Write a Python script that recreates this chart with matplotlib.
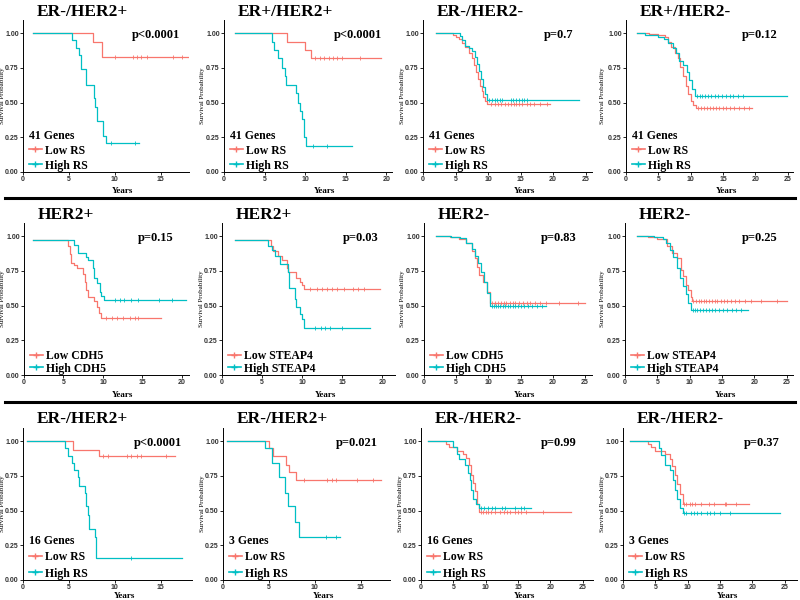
import numpy as np
import matplotlib
matplotlib.use("Agg")
import matplotlib.pyplot as plt
from matplotlib.lines import Line2D

RED = "#F8766D"
CYAN = "#00BFC4"
SERIF = "Liberation Serif"
SANS = "Liberation Sans"

# ---- row 1: 41 genes -------------------------------------------------
# ER-/HER2+
a1_low_t = [1.1, 7.6, 8.65]
a1_low_s = [1.00, 0.94, 0.83]
a1_low_end = 18.1
a1_low_cens = [10.0, 12.0, 12.4, 12.9, 13.5, 16.4, 17.3]
a1_high_t = [1.1, 5.3, 5.8, 6.1, 6.3, 6.9, 7.7, 7.9, 8.1, 8.7, 9.1]
a1_high_s = [1.00, 0.95, 0.89, 0.84, 0.74, 0.63, 0.53, 0.47, 0.37, 0.26, 0.21]
a1_high_end = 12.7
a1_high_cens = [9.6, 12.2]

# ER+/HER2+
a2_low_t = [1.4, 7.8, 10.0, 10.7]
a2_low_s = [1.00, 0.94, 0.88, 0.82]
a2_low_end = 19.3
a2_low_cens = [11.2, 11.85, 12.3, 12.9, 13.4, 13.9, 14.5, 16.8]
a2_high_t = [1.4, 5.9, 6.1, 6.7, 7.1, 7.5, 7.7, 8.9, 9.1, 9.4, 9.6, 9.8, 9.9, 10.1]
a2_high_s = [1.00, 0.94, 0.88, 0.82, 0.75, 0.69, 0.63, 0.57, 0.50, 0.44, 0.38, 0.31, 0.25, 0.19]
a2_high_end = 15.8
a2_high_cens = [11.0, 12.7]

# ER-/HER2-
a3_low_t = [2.0, 4.6, 5.0, 5.5, 6.0, 6.5, 7.0, 7.5, 7.8, 8.1, 8.4, 8.7, 9.0, 9.3, 9.6, 9.9]
a3_low_s = [1.00, 0.99, 0.97, 0.96, 0.93, 0.90, 0.86, 0.82, 0.77, 0.72, 0.67, 0.62, 0.58, 0.54, 0.51, 0.49]
a3_low_end = 19.5
a3_low_cens = [10.5, 11.0, 11.5, 12.0, 12.6, 13.0, 13.5, 14.0, 14.3, 14.8, 15.3, 16.0, 16.5, 17.0, 18.0, 19.0]
a3_high_t = [2.0, 5.7, 6.0, 6.5, 7.0, 7.5, 8.0, 8.3, 8.6, 8.9, 9.2, 9.5, 9.8]
a3_high_s = [1.00, 0.98, 0.95, 0.91, 0.89, 0.87, 0.83, 0.78, 0.73, 0.67, 0.61, 0.56, 0.52]
a3_high_end = 24.0
a3_high_cens = [10.2, 10.6, 11.0, 11.4, 11.8, 12.2, 13.5, 13.8, 14.3, 14.7, 15.2, 15.6, 16.0]

# ER+/HER2-
a4_low_t = [1.65, 3.5, 5.0, 6.0, 6.5, 7.0, 7.5, 8.0, 8.4, 8.8, 9.2, 9.6, 10.0, 10.4, 10.8]
a4_low_s = [1.00, 0.995, 0.99, 0.97, 0.94, 0.90, 0.86, 0.82, 0.76, 0.69, 0.62, 0.56, 0.51, 0.48, 0.46]
a4_low_end = 19.5
a4_low_cens = [11.2, 11.6, 12.0, 12.5, 13.0, 13.4, 13.9, 14.4, 15.0, 15.5, 16.1, 16.7, 17.4, 18.2, 19.0]
a4_high_t = [1.65, 3.0, 4.0, 5.0, 5.8, 6.5, 7.2, 7.8, 8.2, 8.8, 9.4, 9.8, 10.2, 10.6]
a4_high_s = [1.00, 0.99, 0.985, 0.975, 0.96, 0.93, 0.89, 0.86, 0.80, 0.77, 0.72, 0.66, 0.60, 0.55]
a4_high_end = 24.9
a4_high_cens = [11.0, 11.4, 11.8, 12.2, 12.7, 13.2, 13.7, 14.2, 14.8, 15.4, 16.0, 16.6, 17.3, 18.0]

# ---- row 2: single genes --------------------------------------------
# HER2+ CDH5
b1_low_t = [1.2, 5.6, 5.8, 6.0, 6.3, 6.7, 7.5, 7.7, 7.9, 8.1, 8.9, 9.2, 9.5, 9.7]
b1_low_s = [0.97, 0.93, 0.87, 0.81, 0.79, 0.77, 0.73, 0.67, 0.61, 0.56, 0.53, 0.49, 0.45, 0.41]
b1_low_end = 17.4
b1_low_cens = [10.4, 11.2, 11.8, 12.6, 13.4, 14.0, 14.4]
b1_high_t = [1.2, 6.3, 6.8, 7.9, 8.1, 8.7, 8.9, 9.2, 9.6, 9.8, 10.1]
b1_high_s = [0.97, 0.94, 0.88, 0.85, 0.83, 0.77, 0.70, 0.66, 0.60, 0.57, 0.54]
b1_high_end = 20.5
b1_high_cens = [11.5, 12.1, 12.7, 13.6, 14.4, 17.1, 18.8]

# HER2+ STEAP4
b2_low_t = [1.6, 6.1, 6.4, 7.0, 7.5, 8.1, 8.3, 9.3, 9.7, 10.0, 10.3]
b2_low_s = [0.97, 0.93, 0.89, 0.86, 0.83, 0.77, 0.74, 0.70, 0.67, 0.65, 0.62]
b2_low_end = 19.75
b2_low_cens = [11.0, 11.8, 12.5, 13.1, 13.7, 14.3, 15.2, 16.4, 17.0, 17.7]
b2_high_t = [1.6, 5.8, 6.2, 6.6, 7.25, 8.2, 8.4, 9.1, 9.3, 9.75, 10.0, 10.2]
b2_high_s = [0.97, 0.93, 0.90, 0.86, 0.80, 0.74, 0.63, 0.55, 0.49, 0.44, 0.40, 0.34]
b2_high_end = 18.5
b2_high_cens = [11.6, 12.3, 12.9, 13.5, 15.0]

# HER2- CDH5
b3_low_t = [1.9, 4.0, 5.5, 6.5, 7.5, 8.0, 8.3, 8.6, 9.2, 9.8, 10.3]
b3_low_s = [1.00, 0.995, 0.98, 0.95, 0.89, 0.84, 0.78, 0.72, 0.67, 0.60, 0.52]
b3_low_end = 25.0
b3_low_cens = [10.6, 11.0, 11.5, 12.0, 12.4, 12.8, 13.3, 13.8, 14.2, 14.8, 15.4, 16.0, 16.5, 17.2, 18.0, 19.0, 21.0, 24.0]
b3_high_t = [1.9, 4.2, 5.6, 6.5, 7.4, 8.0, 8.4, 8.8, 9.3, 9.8, 10.3]
b3_high_s = [1.00, 0.995, 0.985, 0.95, 0.91, 0.86, 0.81, 0.74, 0.67, 0.59, 0.50]
b3_high_end = 19.0
b3_high_cens = [10.6, 10.9, 11.2, 11.5, 11.8, 12.2, 12.6, 13.0, 13.4, 13.8, 14.2, 14.6, 15.1, 15.6, 16.2, 16.8, 17.5, 18.3]

# HER2- STEAP4
b4_low_t = [1.9, 3.5, 5.0, 6.5, 7.2, 8.0, 8.6, 9.0, 9.5, 9.8, 10.2, 10.4]
b4_low_s = [1.00, 0.995, 0.98, 0.93, 0.88, 0.84, 0.76, 0.71, 0.65, 0.61, 0.56, 0.53]
b4_low_end = 25.0
b4_low_cens = [10.6, 11.0, 11.4, 11.8, 12.2, 12.6, 13.0, 13.4, 13.9, 14.3, 14.8, 15.3, 15.8, 16.4, 17.0, 17.6, 18.5, 19.5, 21.0, 23.5]
b4_high_t = [1.9, 4.5, 5.9, 6.3, 7.0, 7.5, 8.0, 8.5, 9.0, 9.4, 9.8, 10.2]
b4_high_s = [1.00, 0.995, 0.98, 0.95, 0.90, 0.85, 0.77, 0.70, 0.64, 0.58, 0.52, 0.47]
b4_high_end = 19.0
b4_high_cens = [10.5, 10.8, 11.2, 11.6, 12.0, 12.5, 13.0, 13.5, 14.0, 14.6, 15.2, 15.8, 16.5, 17.2, 18.0]

# ---- row 3: 16 and 3 genes ------------------------------------------
# ER-/HER2+ 16 genes
c1_low_t = [0.45, 5.4, 8.3]
c1_low_s = [1.00, 0.94, 0.89]
c1_low_end = 16.5
c1_low_cens = [8.7, 9.3, 11.3, 11.8, 12.4, 12.9, 15.6]
c1_high_t = [0.45, 4.55, 4.9, 5.3, 5.5, 6.0, 6.1, 6.8, 6.9, 7.1, 7.2, 7.8, 7.9]
c1_high_s = [1.00, 0.95, 0.89, 0.84, 0.79, 0.74, 0.68, 0.63, 0.53, 0.47, 0.37, 0.31, 0.16]
c1_high_end = 17.3
c1_high_cens = [11.8]

# ER-/HER2+ 3 genes
c2_low_t = [0.45, 5.0, 5.45, 6.9, 7.15, 8.0]
c2_low_s = [1.00, 0.95, 0.89, 0.83, 0.78, 0.72]
c2_low_end = 17.2
c2_low_cens = [8.8, 11.3, 11.9, 12.3, 14.6, 16.3]
c2_high_t = [0.45, 4.55, 5.3, 6.1, 6.8, 7.05, 7.8, 7.9, 8.25]
c2_high_s = [1.00, 0.95, 0.84, 0.74, 0.63, 0.53, 0.47, 0.42, 0.31]
c2_high_end = 12.8
c2_high_cens = [11.2, 12.3]

# ER-/HER2- 16 genes
c3_low_t = [1.1, 3.8, 4.3, 5.5, 6.5, 7.0, 7.4, 7.8, 8.1, 8.4, 8.7, 9.0]
c3_low_s = [1.00, 0.98, 0.96, 0.93, 0.91, 0.88, 0.83, 0.76, 0.70, 0.64, 0.55, 0.49]
c3_low_end = 23.2
c3_low_cens = [9.3, 9.6, 10.0, 10.4, 10.8, 11.5, 12.2, 12.8, 13.3, 13.8, 14.5, 15.0, 15.5, 16.2, 18.8]
c3_high_t = [1.1, 5.0, 5.5, 5.8, 6.8, 7.3, 7.6, 7.8, 8.0, 8.5, 8.9]
c3_high_s = [1.00, 0.96, 0.91, 0.87, 0.83, 0.77, 0.72, 0.65, 0.58, 0.55, 0.52]
c3_high_end = 17.0
c3_high_cens = [9.3, 9.8, 10.3, 11.0, 11.5, 12.5, 13.0, 14.5, 15.4, 16.0]

# ER-/HER2- 3 genes
c4_low_t = [1.1, 3.8, 4.3, 5.0, 6.5, 7.2, 7.6, 8.0, 8.3, 8.8, 9.2]
c4_low_s = [1.00, 0.98, 0.96, 0.93, 0.91, 0.87, 0.82, 0.76, 0.69, 0.62, 0.55]
c4_low_end = 19.5
c4_low_cens = [9.5, 9.8, 10.3, 10.7, 11.2, 12.0, 13.3, 14.0, 15.7, 16.0, 17.5]
c4_high_t = [1.1, 5.5, 5.8, 6.5, 7.3, 7.7, 8.0, 8.3, 8.8, 9.2]
c4_high_s = [1.00, 0.95, 0.90, 0.83, 0.79, 0.72, 0.65, 0.58, 0.52, 0.48]
c4_high_end = 24.2
c4_high_cens = [9.4, 9.8, 10.5, 11.0, 11.5, 12.0, 13.0, 13.5, 14.0, 15.0, 16.5]

titles = ["ER-/HER2+", "ER+/HER2+", "ER-/HER2-", "ER+/HER2-",
          "HER2+", "HER2+", "HER2-", "HER2-",
          "ER-/HER2+", "ER-/HER2+", "ER-/HER2-", "ER-/HER2-"]
pvals = ["p<0.0001", "p<0.0001", "p=0.7", "p=0.12",
         "p=0.15", "p=0.03", "p=0.83", "p=0.25",
         "p<0.0001", "p=0.021", "p=0.99", "p=0.37"]
gene_sets = ["41 Genes"] * 4 + [None] * 4 + ["16 Genes", "3 Genes", "16 Genes", "3 Genes"]
low_labels = ["Low RS"] * 4 + ["Low CDH5", "Low STEAP4", "Low CDH5", "Low STEAP4"] + ["Low RS"] * 4
high_labels = ["High RS"] * 4 + ["High CDH5", "High STEAP4", "High CDH5", "High STEAP4"] + ["High RS"] * 4

series = [
    ((a1_low_t, a1_low_s, a1_low_end, a1_low_cens), (a1_high_t, a1_high_s, a1_high_end, a1_high_cens)),
    ((a2_low_t, a2_low_s, a2_low_end, a2_low_cens), (a2_high_t, a2_high_s, a2_high_end, a2_high_cens)),
    ((a3_low_t, a3_low_s, a3_low_end, a3_low_cens), (a3_high_t, a3_high_s, a3_high_end, a3_high_cens)),
    ((a4_low_t, a4_low_s, a4_low_end, a4_low_cens), (a4_high_t, a4_high_s, a4_high_end, a4_high_cens)),
    ((b1_low_t, b1_low_s, b1_low_end, b1_low_cens), (b1_high_t, b1_high_s, b1_high_end, b1_high_cens)),
    ((b2_low_t, b2_low_s, b2_low_end, b2_low_cens), (b2_high_t, b2_high_s, b2_high_end, b2_high_cens)),
    ((b3_low_t, b3_low_s, b3_low_end, b3_low_cens), (b3_high_t, b3_high_s, b3_high_end, b3_high_cens)),
    ((b4_low_t, b4_low_s, b4_low_end, b4_low_cens), (b4_high_t, b4_high_s, b4_high_end, b4_high_cens)),
    ((c1_low_t, c1_low_s, c1_low_end, c1_low_cens), (c1_high_t, c1_high_s, c1_high_end, c1_high_cens)),
    ((c2_low_t, c2_low_s, c2_low_end, c2_low_cens), (c2_high_t, c2_high_s, c2_high_end, c2_high_cens)),
    ((c3_low_t, c3_low_s, c3_low_end, c3_low_cens), (c3_high_t, c3_high_s, c3_high_end, c3_high_cens)),
    ((c4_low_t, c4_low_s, c4_low_end, c4_low_cens), (c4_high_t, c4_high_s, c4_high_end, c4_high_cens)),
]

# panel boxes in pixels: left, right, x max (years)
panel_x = [(23, 189, 18.1), (224, 392, 20.7), (423, 592, 26.0), (626, 793, 25.8),
           (24, 189, 20.9), (222, 395, 21.6), (424, 592, 26.1), (625, 793, 26.0),
           (23, 192, 18.4), (223, 390, 18.2), (421, 593, 26.6), (623, 797, 26.9)]
row_bottom = [172, 375, 580]   # pixel y of x axis (from top)
row_title = [16, 219, 423]     # title baseline
row_spacing = [0.25, 0.02, 0.35]
row_xlab = [15, 16, 12]
PANEL_H = 152
W, H = 800, 600


def km(ax, t, s, end, cens, color, label):
    tt = list(t) + [end]
    ss = list(s) + [s[-1]]
    ax.step(tt, ss, where="post", color=color, lw=0.9)
    idx = np.searchsorted(t, cens, side="right") - 1
    ax.plot(cens, np.array(s)[idx], ls="none", marker="+", ms=3.5, mew=0.6, color=color)
    return Line2D([], [], color=color, lw=1.2, marker="+", ms=5, mew=1.0, label=label)


fig = plt.figure(figsize=(8, 6), dpi=100)

for i in range(12):
    row, col = divmod(i, 4)
    left, right, xmax = panel_x[i]
    bottom = row_bottom[row]
    width = right - left
    ax = fig.add_axes([left / W, 1 - bottom / H, width / W, PANEL_H / H])
    low, high = series[i]
    h1 = km(ax, *low, RED, low_labels[i])
    h2 = km(ax, *high, CYAN, high_labels[i])
    ax.set_xlim(0, xmax)
    ax.set_ylim(0, 1.095)
    ax.set_xticks(np.arange(0, xmax, 5))
    ax.set_yticks([0, 0.25, 0.5, 0.75, 1.0])
    ax.set_yticklabels(["0.00", "0.25", "0.50", "0.75", "1.00"])
    for sp in ["top", "right"]:
        ax.spines[sp].set_visible(False)
    for sp in ["left", "bottom"]:
        ax.spines[sp].set_linewidth(0.7)
    ax.tick_params(length=2, width=0.6, pad=1.0, labelsize=5, labelcolor="#333333")
    for lab in ax.get_xticklabels() + ax.get_yticklabels():
        lab.set_fontweight("bold")
        lab.set_family(SANS)
    ax.set_ylabel("Survival Probability", family=SERIF, fontsize=5)
    ylab_x = min(col * 200 + 5, left - 18)
    ax.yaxis.set_label_coords(-(left - ylab_x) / width, 0.5)
    ax.set_xlabel("Years", family=SERIF, fontsize=6.5, fontweight="bold")
    ax.xaxis.set_label_coords(0.6, -row_xlab[row] / PANEL_H)

    ax.text(0.8, 0.985, pvals[i], transform=ax.get_yaxis_transform(), ha="center", va="center",
            family=SERIF, fontsize=9, fontweight="bold")

    ax.legend(handles=[h1, h2], title=gene_sets[i], loc="lower left",
              bbox_to_anchor=(6 / width, 0.003), frameon=False, borderaxespad=0.0,
              borderpad=0.0, handlelength=1.1, handletextpad=0.25,
              labelspacing=row_spacing[row], alignment="left",
              prop={"family": SERIF, "size": 8.5, "weight": "bold"},
              title_fontproperties={"family": SERIF, "size": 8.5, "weight": "bold"})

    fig.text((left + 14) / W, 1 - row_title[row] / H, titles[i], ha="left", va="baseline",
             family=SERIF, fontsize=12.5, fontweight="bold")

# row separators
for y in [198, 402]:
    fig.add_artist(Line2D([5 / W, 795 / W], [1 - y / H, 1 - y / H], color="black", lw=2.2))

fig.savefig("out.png", dpi=100)
